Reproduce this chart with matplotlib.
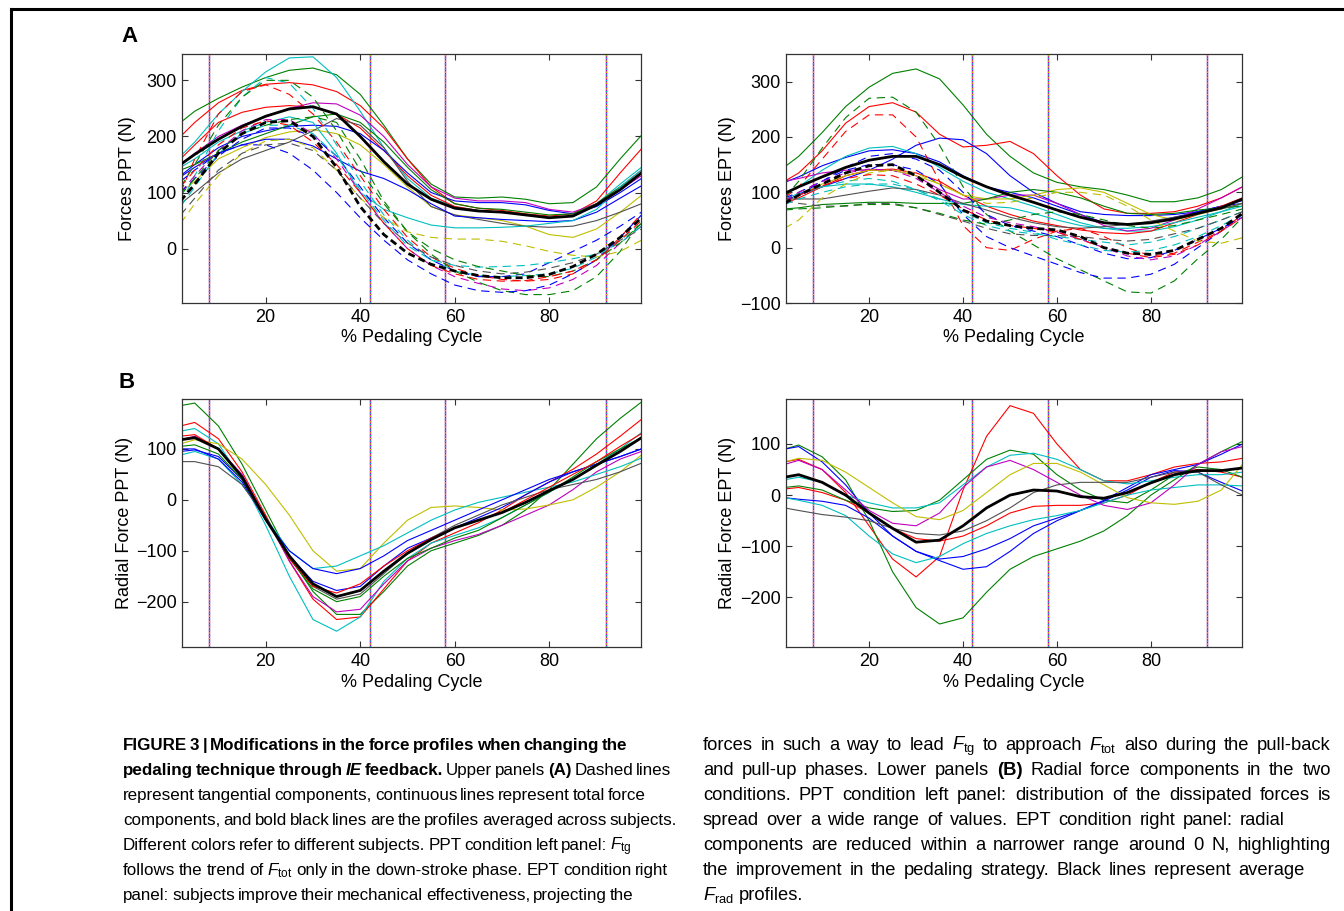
import matplotlib
matplotlib.use('Agg')
import matplotlib.pyplot as plt
from matplotlib.lines import Line2D

plt.rcParams['font.family'] = ['Liberation Sans', 'DejaVu Sans']
plt.rcParams['mathtext.fontset'] = 'custom'
plt.rcParams['mathtext.rm'] = 'Liberation Sans'
plt.rcParams['mathtext.it'] = 'Liberation Sans:italic'
plt.rcParams['mathtext.bf'] = 'Liberation Sans:bold'
plt.rcParams['lines.scale_dashes'] = False

######################## DATA ########################
# % pedaling cycle where values were read
X = [2, 5, 10, 15, 20, 25, 30, 35, 40, 45, 50, 55, 60, 65, 70, 75, 80, 85, 90, 95, 99.5]
phase_lines = [8, 42, 58, 92]

B, G, R, C, M, Y, K = '#0000ff', '#008000', '#ff0000', '#00bfbf', '#bf00bf', '#bfbf00', '#505050'

# A, PPT: total force (solid) and tangential force (dashed)
ppt_tot_colors = [G, R, C, R, M, B, G, Y, K, B, C]
ppt_tot = [
    [225, 245, 268, 288, 305, 318, 322, 310, 275, 220, 160, 115, 92, 90, 92, 88, 80, 82, 110, 160, 202],
    [200, 225, 260, 282, 293, 296, 292, 280, 255, 215, 160, 110, 80, 72, 68, 62, 58, 62, 85, 135, 178],
    [165, 190, 240, 280, 315, 340, 342, 305, 245, 180, 125, 90, 75, 68, 65, 60, 55, 58, 80, 115, 145],
    [160, 185, 225, 243, 252, 255, 252, 240, 215, 175, 130, 95, 75, 68, 65, 60, 55, 58, 80, 110, 140],
    [150, 170, 200, 220, 235, 250, 260, 258, 238, 200, 150, 110, 90, 85, 85, 82, 70, 65, 80, 105, 130],
    [130, 150, 180, 200, 210, 218, 220, 218, 205, 175, 135, 100, 85, 82, 82, 78, 68, 62, 75, 100, 125],
    [140, 150, 170, 190, 205, 220, 235, 240, 225, 190, 145, 105, 80, 72, 70, 65, 60, 62, 80, 110, 135],
    [100, 120, 160, 180, 198, 208, 212, 205, 185, 150, 110, 75, 60, 55, 50, 40, 25, 20, 35, 65, 95],
    [80, 100, 135, 160, 175, 190, 210, 232, 220, 180, 120, 75, 60, 52, 45, 40, 38, 40, 50, 65, 80],
    [128, 145, 170, 185, 195, 195, 183, 160, 138, 125, 105, 80, 58, 55, 52, 50, 48, 50, 65, 90, 112],
    [145, 160, 190, 210, 225, 235, 225, 170, 100, 70, 55, 42, 37, 37, 38, 40, 45, 50, 70, 110, 140],
]
ppt_tot_mean = [150, 168, 195, 218, 236, 249, 253, 240, 200, 155, 115, 88, 72, 67, 65, 60, 55, 58, 78, 105, 135]

ppt_tan_colors = [R, C, G, M, B, B, Y, K, C, G, R]
ppt_tan = [
    [100, 160, 240, 280, 292, 275, 240, 190, 130, 70, 20, -15, -35, -48, -55, -58, -55, -45, -20, 20, 62],
    [80, 130, 210, 270, 305, 295, 250, 185, 120, 60, 15, -20, -40, -48, -50, -48, -45, -35, -15, 15, 45],
    [110, 150, 220, 270, 300, 300, 270, 210, 140, 80, 30, -10, -40, -60, -75, -82, -82, -75, -50, -5, 50],
    [100, 130, 175, 210, 230, 230, 205, 160, 100, 45, 0, -30, -50, -62, -72, -75, -70, -55, -30, 10, 40],
    [120, 140, 170, 185, 185, 170, 140, 100, 55, 15, -20, -45, -65, -75, -78, -75, -65, -45, -20, 20, 60],
    [100, 125, 165, 195, 215, 215, 200, 165, 110, 55, 10, -20, -40, -50, -50, -45, -25, -5, 15, 40, 65],
    [45, 80, 130, 170, 192, 195, 180, 140, 90, 55, 30, 20, 17, 17, 13, 5, -5, -12, -15, -5, 15],
    [60, 90, 140, 170, 185, 188, 175, 140, 90, 45, 10, -15, -30, -40, -45, -42, -35, -25, -10, 15, 35],
    [75, 110, 170, 205, 220, 220, 205, 165, 105, 50, 5, -20, -30, -33, -32, -30, -25, -18, -10, 10, 40],
    [95, 125, 175, 205, 220, 230, 235, 225, 160, 85, 30, 0, -20, -32, -40, -48, -50, -40, -20, 10, 45],
    [110, 140, 185, 215, 228, 220, 190, 150, 100, 45, 0, -30, -45, -55, -58, -57, -50, -40, -20, 15, 50],
]
ppt_tan_mean = [85, 115, 170, 205, 225, 228, 200, 145, 75, 25, -8, -28, -40, -48, -52, -52, -46, -32, -10, 20, 55]

# A, EPT
ept_tot_colors = [G, R, B, B, C, M, R, Y, G, C, K]
ept_tot = [
    [146, 165, 208, 255, 290, 315, 323, 305, 258, 205, 165, 135, 118, 110, 105, 95, 83, 83, 90, 105, 128],
    [120, 135, 175, 225, 255, 262, 245, 205, 182, 185, 192, 170, 130, 95, 70, 62, 62, 65, 75, 90, 110],
    [85, 95, 110, 125, 140, 160, 185, 198, 195, 170, 130, 100, 80, 65, 60, 58, 58, 60, 65, 75, 85],
    [118, 128, 148, 163, 175, 177, 170, 155, 130, 110, 100, 90, 75, 60, 45, 42, 45, 55, 65, 75, 80],
    [95, 110, 140, 165, 180, 183, 170, 145, 120, 100, 88, 75, 60, 45, 35, 30, 30, 38, 50, 65, 80],
    [120, 125, 135, 140, 140, 140, 130, 105, 88, 88, 95, 95, 80, 60, 40, 30, 35, 50, 70, 90, 110],
    [80, 90, 110, 130, 140, 142, 135, 120, 95, 75, 60, 48, 40, 32, 27, 25, 30, 45, 60, 75, 90],
    [82, 95, 115, 130, 140, 140, 130, 115, 95, 88, 88, 95, 105, 108, 100, 80, 60, 50, 60, 70, 80],
    [70, 72, 78, 80, 82, 82, 80, 80, 80, 88, 100, 105, 100, 90, 75, 62, 60, 62, 68, 72, 75],
    [88, 98, 110, 115, 115, 110, 100, 88, 78, 75, 72, 62, 50, 40, 35, 35, 38, 45, 55, 65, 75],
    [88, 88, 88, 95, 102, 108, 105, 95, 80, 68, 55, 45, 38, 35, 38, 42, 48, 55, 62, 70, 80],
]
ept_tot_mean = [98, 110, 128, 145, 158, 165, 165, 150, 128, 110, 95, 82, 68, 55, 45, 42, 45, 52, 62, 72, 88]

ept_tan_colors = [G, R, B, B, C, M, Y, K, G, R, C]
ept_tan = [
    [90, 120, 180, 235, 270, 272, 245, 185, 110, 60, 30, 5, -20, -40, -60, -80, -82, -60, -20, 15, 55],
    [90, 110, 160, 210, 240, 240, 200, 120, 40, 0, -5, 15, 30, 35, 20, 0, -15, -10, 10, 30, 60],
    [90, 100, 120, 140, 150, 150, 140, 115, 60, 20, 0, -15, -30, -45, -55, -55, -48, -30, 0, 30, 60],
    [85, 95, 120, 145, 165, 170, 160, 140, 100, 60, 40, 30, 20, 5, -10, -20, -18, -5, 15, 35, 55],
    [80, 95, 110, 120, 125, 120, 105, 85, 60, 40, 30, 25, 20, 15, 10, 5, 10, 20, 35, 50, 65],
    [85, 100, 120, 135, 142, 140, 125, 100, 75, 55, 45, 38, 28, 15, 0, -15, -22, -15, 5, 30, 55],
    [35, 50, 90, 115, 135, 140, 135, 115, 95, 80, 82, 90, 100, 100, 95, 75, 50, 30, 12, 8, 18],
    [85, 80, 75, 75, 80, 80, 72, 60, 48, 35, 25, 22, 22, 20, 15, 12, 15, 25, 35, 50, 65],
    [68, 70, 72, 76, 78, 78, 72, 62, 50, 42, 50, 60, 65, 60, 50, 40, 35, 40, 50, 60, 70],
    [82, 95, 112, 125, 132, 130, 115, 95, 70, 50, 40, 35, 28, 15, 0, -10, -18, -12, 5, 30, 55],
    [78, 88, 100, 110, 115, 115, 105, 88, 65, 45, 35, 28, 15, 5, -5, -8, -5, 5, 20, 40, 60],
]
ept_tan_mean = [80, 95, 115, 135, 148, 150, 130, 100, 68, 48, 40, 35, 32, 20, 0, -10, -12, -5, 15, 35, 62]

# B, radial force
ppt_rad_colors = [G, R, C, M, Y, C, B, B, G, K, R]
ppt_rad = [
    [185, 190, 145, 70, -20, -110, -180, -225, -225, -180, -130, -100, -85, -70, -50, -20, 20, 70, 120, 160, 192],
    [145, 152, 120, 55, -30, -120, -195, -235, -230, -175, -120, -85, -65, -45, -20, 10, 35, 60, 90, 125, 158],
    [135, 140, 110, 40, -50, -150, -235, -258, -230, -160, -115, -85, -70, -55, -35, -10, 15, 40, 70, 100, 132],
    [118, 125, 100, 50, -35, -120, -190, -220, -215, -165, -120, -95, -80, -68, -50, -30, -10, 20, 55, 80, 95],
    [110, 118, 110, 80, 30, -30, -100, -140, -135, -85, -40, -15, -12, -15, -20, -18, -10, 0, 25, 55, 88],
    [88, 95, 80, 30, -35, -100, -135, -130, -110, -90, -65, -40, -20, -5, 5, 15, 25, 35, 50, 65, 82],
    [100, 100, 80, 35, -40, -100, -135, -145, -135, -110, -80, -60, -40, -20, 0, 20, 40, 55, 70, 85, 100],
    [95, 98, 85, 40, -35, -110, -160, -178, -170, -130, -95, -75, -55, -35, -15, 10, 35, 55, 70, 85, 100],
    [105, 108, 90, 40, -35, -115, -175, -200, -190, -150, -115, -95, -75, -60, -35, -10, 15, 45, 75, 100, 122],
    [75, 75, 65, 30, -35, -110, -170, -195, -185, -145, -105, -75, -50, -30, -10, 5, 20, 30, 40, 55, 72],
    [125, 128, 100, 45, -35, -115, -170, -183, -165, -130, -100, -75, -55, -40, -25, 0, 25, 50, 75, 105, 130],
]
ppt_rad_mean = [118, 122, 100, 45, -38, -110, -165, -190, -178, -140, -105, -78, -55, -40, -25, -5, 18, 40, 68, 95, 122]

ept_rad_colors = [R, R, G, G, B, B, C, C, M, Y, K]
ept_rad = [
    [65, 70, 50, 5, -60, -125, -160, -120, 10, 115, 175, 160, 100, 50, 28, 28, 40, 55, 62, 65, 72],
    [12, 15, 5, -10, -35, -65, -85, -90, -80, -60, -35, -22, -20, -20, -15, 0, 25, 45, 50, 45, 35],
    [90, 98, 75, 30, -50, -150, -220, -252, -240, -190, -145, -120, -105, -90, -70, -40, 0, 30, 60, 85, 105],
    [15, 18, 10, -10, -25, -32, -30, -10, 30, 70, 88, 80, 40, 10, -10, -15, 10, 40, 55, 50, 35],
    [90, 95, 65, 20, -35, -80, -110, -128, -145, -140, -110, -75, -50, -30, -10, 15, 40, 50, 60, 80, 100],
    [-5, -8, -12, -20, -45, -80, -110, -125, -120, -105, -85, -60, -45, -30, -12, 10, 35, 48, 45, 25, 8],
    [30, 35, 25, 0, -15, -25, -25, -15, 20, 55, 78, 82, 70, 50, 28, 22, 28, 35, 40, 40, 45],
    [-5, -10, -20, -40, -80, -115, -132, -120, -95, -75, -60, -48, -40, -30, -15, 0, 10, 15, 20, 20, 18],
    [60, 68, 50, 10, -30, -55, -60, -35, 15, 55, 68, 50, 25, 0, -20, -28, -15, 20, 60, 85, 95],
    [65, 72, 68, 45, 15, -15, -42, -48, -30, 5, 40, 62, 62, 45, 20, -5, -15, -18, -12, 10, 60],
    [-25, -30, -38, -43, -50, -65, -75, -78, -70, -50, -25, 5, 20, 25, 25, 25, 35, 45, 45, 20, 0],
]
ept_rad_mean = [35, 40, 25, 0, -35, -65, -92, -88, -60, -25, 0, 10, 8, -3, -6, 5, 24, 40, 48, 48, 53]

# caption lines with the x (px) where each line ends in the reference (None = left aligned)
caption_left = [
    ("^FIGURE ^3 ^| ^Modifications ^in ^the ^force ^profiles ^when ^changing ^the", 617),
    ("^pedaling ^technique ^through ~IE ^feedback. Upper panels ^(A) Dashed lines", 668),
    ("represent tangential components, continuous lines represent total force", 638),
    ("components, and bold black lines are the profiles averaged across subjects.", 668),
    (r"Different colors refer to different subjects. PPT condition left panel: $F_{\mathrm{tg}}$", 632),
    (r"follows the trend of $F_{\mathrm{tot}}$ only in the down-stroke phase. EPT condition right", 668),
    ("panel: subjects improve their mechanical effectiveness, projecting the", 617),
]
caption_right = [
    (r"forces in such a way to lead $F_{\mathrm{tg}}$ to approach $F_{\mathrm{tot}}$ also during the pull-back", 1331),
    ("and pull-up phases. Lower panels ^(B) Radial force components in the two", 1331),
    ("conditions. PPT condition left panel: distribution of the dissipated forces is", 1331),
    ("spread over a wide range of values. EPT condition right panel: radial", 1285),
    ("components are reduced within a narrower range around 0 N, highlighting", 1331),
    ("the improvement in the pedaling strategy. Black lines represent average", 1305),
    (r"$F_{\mathrm{rad}}$ profiles.", None),
]

######################## FIGURE ########################
W, H = 1344, 911
fig = plt.figure(figsize=(W / 100, H / 100), dpi=100)
FS = 13


def box(l, t, r, b):
    return [l / W, 1 - b / H, (r - l) / W, (b - t) / H]


def panel(rect, ylim, yticks, ylabel, lab_x, lab_y, tot, tot_c, tot_mean, tan=None, tan_c=None, tan_mean=None):
    ax = fig.add_axes(box(*rect))
    for v in phase_lines:
        ax.axvline(v, color=M, lw=1.0, zorder=1)
        ax.axvline(v, color=C, lw=1.0, ls=(0, (1, 3)), zorder=1)
        ax.axvline(v, color=Y, lw=1.0, ls=(2, (1, 3)), zorder=1)
    for row, c in zip(tot, tot_c):
        ax.plot(X, row, color=c, lw=0.8, zorder=2)
    if tan is not None:
        for row, c in zip(tan, tan_c):
            ax.plot(X, row, color=c, lw=0.8, ls=(0, (6, 4)), zorder=2)
    ax.plot(X, tot_mean, color='k', lw=2.0, zorder=3)
    if tan_mean is not None:
        ax.plot(X, tan_mean, color='k', lw=2.0, ls=(0, (5, 3)), zorder=3)
    ax.set_xlim(2.3, 99.4)
    ax.set_ylim(*ylim)
    ax.set_xticks([20, 40, 60, 80])
    ax.set_yticks(yticks)
    ax.tick_params(direction='in', length=4, width=0.8, top=True, right=True,
                   labelsize=FS, pad=4, color='#333333')
    for s in ax.spines.values():
        s.set_color('#333333')
        s.set_linewidth(0.9)
    ax.set_xlabel('% Pedaling Cycle', fontsize=FS)
    ax.xaxis.set_label_coords(0.5, lab_y)
    ax.set_ylabel(ylabel, fontsize=FS)
    ax.yaxis.set_label_coords(lab_x, 0.5)
    return ax


panel((182, 54, 641, 303), (-97, 347), [0, 100, 200, 300], 'Forces PPT (N)', -0.100, -0.104,
      ppt_tot, ppt_tot_colors, ppt_tot_mean, ppt_tan, ppt_tan_colors, ppt_tan_mean)
panel((786, 54, 1242, 303), (-100, 350), [-100, 0, 100, 200, 300], 'Forces EPT (N)', -0.110, -0.104,
      ept_tot, ept_tot_colors, ept_tot_mean, ept_tan, ept_tan_colors, ept_tan_mean)
panel((182, 399, 641, 647), (-289, 198), [-200, -100, 0, 100], 'Radial Force PPT (N)', -0.107, -0.109,
      ppt_rad, ppt_rad_colors, ppt_rad_mean)
panel((786, 399, 1242, 647), (-297, 188), [-200, -100, 0, 100], 'Radial Force EPT (N)', -0.110, -0.109,
      ept_rad, ept_rad_colors, ept_rad_mean)

fig.text(129 / W, 1 - 37 / H, 'A', fontsize=16, weight='bold', ha='center', va='center')
fig.text(127 / W, 1 - 382 / H, 'B', fontsize=16, weight='bold', ha='center', va='center')

# frame (left and top edges)
fig.add_artist(Line2D([11 / W, 11 / W], [0, 1 - 9 / H], color='k', lw=2.2))
fig.add_artist(Line2D([11 / W, 1], [1 - 9 / H, 1 - 9 / H], color='k', lw=2.2))

######################## CAPTION ########################
rend = fig.canvas.get_renderer()


def width_of(s, size, **kw):
    t = fig.text(0, 0, s, fontsize=size, **kw)
    w = t.get_window_extent(renderer=rend).width
    t.remove()
    return w


fit_left = 10 * 515 / width_of("represent tangential components, continuous lines represent total force", 10)
fit_right = 10 * 582 / width_of("spread over a wide range of values. EPT condition right panel: radial", 10)
size_left = 0.75 * fit_left + 0.25 * fit_right
size_right = 0.75 * fit_right + 0.25 * fit_left


def caption_line(x0, yc, line, x_end, size):
    space = width_of("a a", size) - width_of("aa", size)
    texts = []
    for w in line.split(' '):
        kw = {}
        if w.startswith('^'):
            w, kw = w[1:], dict(weight='bold')
        elif w.startswith('~'):
            w, kw = w[1:], dict(weight='bold', style='italic')
        texts.append(fig.text(0, 0, w, fontsize=size, ha='left', va='baseline', **kw))
    ws = [t.get_window_extent(renderer=rend).width for t in texts]
    gap = space
    if x_end is not None and len(ws) > 1:
        gap = max((x_end - x0 - sum(ws)) / (len(ws) - 1), 0.6 * space)
    x = x0
    for t, w in zip(texts, ws):
        t.set_position((x / W, 1 - (yc + 5) / H))
        x += w + gap


for i, (line, x_end) in enumerate(caption_left):
    caption_line(123, 745 + 25 * i, line, x_end, size_left)
for i, (line, x_end) in enumerate(caption_right):
    caption_line(703, 745 + 25 * i, line, x_end, size_right)

fig.savefig('out.png', dpi=100)
